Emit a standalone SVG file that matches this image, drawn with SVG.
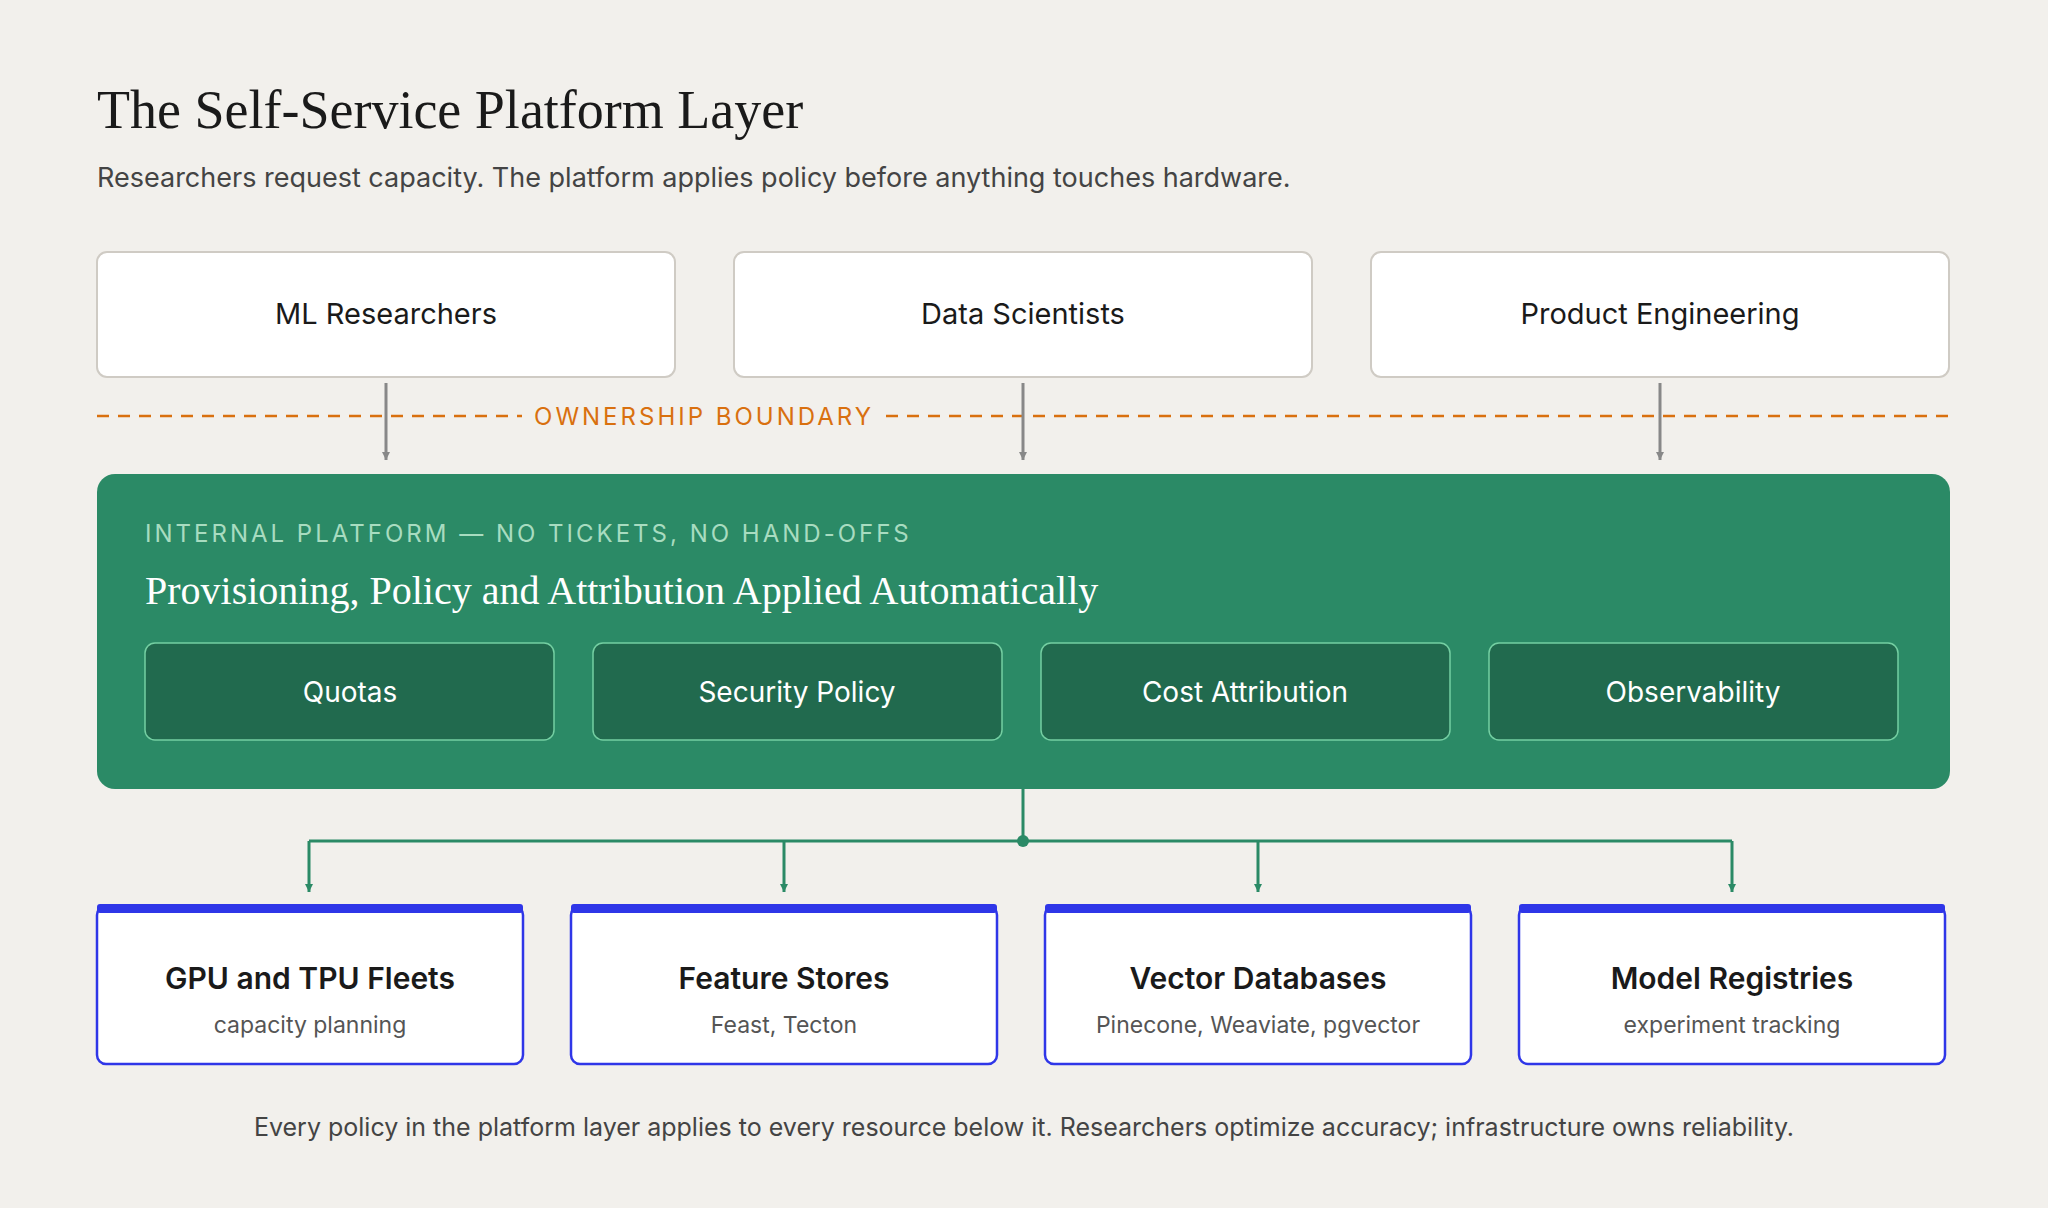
<svg xmlns="http://www.w3.org/2000/svg" width="2048" height="1220" viewBox="0 0 2048 1220">
<defs>
<style>
.sans{font-family:Inter,"Liberation Sans",sans-serif}
.serif{font-family:"Liberation Serif","DejaVu Serif",serif}
.top rect{fill:#fff;stroke:#cfcbc4;stroke-width:2}
.top text{font-size:29px;fill:#1a1a1a;text-anchor:middle}
.inner rect{fill:#216a4e;stroke:#74cfa2;stroke-width:1.5}
.inner text{font-size:28px;fill:#fff;text-anchor:middle}
.res rect.b{fill:#fff;stroke:#2f36e8;stroke-width:2.5}
.res rect.t{fill:#2f36e8}
.res text.h{font-size:30px;font-weight:600;fill:#1a1a1a;text-anchor:middle}
.res text.s{font-size:23px;fill:#555;text-anchor:middle}
.gray{stroke:#888;stroke-width:3;fill:none}
.grn{stroke:#2b8a66;stroke-width:3;fill:none}
</style>
<marker id="ag" viewBox="0 0 10 10" refX="10" refY="5" markerWidth="8" markerHeight="8" markerUnits="userSpaceOnUse" orient="auto"><path d="M0,0 L10,5 L0,10 z" fill="#888"/></marker>
<marker id="ar" viewBox="0 0 10 10" refX="10" refY="5" markerWidth="8" markerHeight="8" markerUnits="userSpaceOnUse" orient="auto"><path d="M0,0 L10,5 L0,10 z" fill="#2b8a66"/></marker>
</defs>
<rect width="2048" height="1220" fill="#fff"/>
<rect width="2048" height="1208" fill="#f2f0ec"/>
<text class="serif" x="97" y="128" font-size="54" fill="#1a1a1a">The Self-Service Platform Layer</text>
<text class="sans" x="97" y="187" font-size="27" fill="#444">Researchers request capacity. The platform applies policy before anything touches hardware.</text>

<g id="ml-researchers" class="top sans"><rect x="97" y="252" width="578" height="125" rx="10"/><text x="386" y="324">ML Researchers</text></g>
<g id="data-scientists" class="top sans"><rect x="734" y="252" width="578" height="125" rx="10"/><text x="1023" y="324">Data Scientists</text></g>
<g id="product-engineering" class="top sans"><rect x="1371" y="252" width="578" height="125" rx="10"/><text x="1660" y="324">Product Engineering</text></g>

<g id="boundary">
<path d="M97 416 H522 M886 416 H1950" stroke="#d9700f" stroke-width="2.5" stroke-dasharray="12 9" fill="none"/>
<text class="sans" x="704" y="425" font-size="24" fill="#d9700f" text-anchor="middle" letter-spacing="3">OWNERSHIP BOUNDARY</text>
</g>

<g id="platform">
<rect x="97" y="474" width="1853" height="315" rx="18" fill="#2b8a66"/>
<text class="sans" x="145" y="542" font-size="24" fill="#a8dcc0" letter-spacing="3">INTERNAL PLATFORM — NO TICKETS, NO HAND-OFFS</text>
<text class="serif" x="145" y="604" font-size="40" fill="#fff">Provisioning, Policy and Attribution Applied Automatically</text>
</g>
<g id="quotas" class="inner sans"><rect x="145" y="643" width="409" height="97" rx="10"/><text x="350" y="702">Quotas</text></g>
<g id="security-policy" class="inner sans"><rect x="593" y="643" width="409" height="97" rx="10"/><text x="797" y="702">Security Policy</text></g>
<g id="cost-attribution" class="inner sans"><rect x="1041" y="643" width="409" height="97" rx="10"/><text x="1245" y="702">Cost Attribution</text></g>
<g id="observability" class="inner sans"><rect x="1489" y="643" width="409" height="97" rx="10"/><text x="1693" y="702">Observability</text></g>

<g id="connectors">
<path class="gray" d="M386 383 V460" marker-end="url(#ag)"/>
<path class="gray" d="M1023 383 V460" marker-end="url(#ag)"/>
<path class="gray" d="M1660 383 V460" marker-end="url(#ag)"/>
<path class="grn" d="M1023 789 V841 M309 841 H1732"/>
<circle cx="1023" cy="841" r="6" fill="#2b8a66"/>
<path class="grn" d="M309 841 V892" marker-end="url(#ar)"/>
<path class="grn" d="M784 841 V892" marker-end="url(#ar)"/>
<path class="grn" d="M1258 841 V892" marker-end="url(#ar)"/>
<path class="grn" d="M1732 841 V892" marker-end="url(#ar)"/>
</g>

<g id="gpu-tpu" class="res sans"><rect class="b" x="97" y="906" width="426" height="158" rx="9"/><rect class="t" x="97" y="904" width="426" height="9" rx="3"/><text class="h" x="310" y="989">GPU and TPU Fleets</text><text class="s" x="310" y="1033">capacity planning</text></g>
<g id="feature-stores" class="res sans"><rect class="b" x="571" y="906" width="426" height="158" rx="9"/><rect class="t" x="571" y="904" width="426" height="9" rx="3"/><text class="h" x="784" y="989">Feature Stores</text><text class="s" x="784" y="1033">Feast, Tecton</text></g>
<g id="vector-db" class="res sans"><rect class="b" x="1045" y="906" width="426" height="158" rx="9"/><rect class="t" x="1045" y="904" width="426" height="9" rx="3"/><text class="h" x="1258" y="989">Vector Databases</text><text class="s" x="1258" y="1033">Pinecone, Weaviate, pgvector</text></g>
<g id="model-registries" class="res sans"><rect class="b" x="1519" y="906" width="426" height="158" rx="9"/><rect class="t" x="1519" y="904" width="426" height="9" rx="3"/><text class="h" x="1732" y="989">Model Registries</text><text class="s" x="1732" y="1033">experiment tracking</text></g>

<text class="sans" x="1024" y="1136" font-size="25" fill="#444" text-anchor="middle">Every policy in the platform layer applies to every resource below it. Researchers optimize accuracy; infrastructure owns reliability.</text>
</svg>
